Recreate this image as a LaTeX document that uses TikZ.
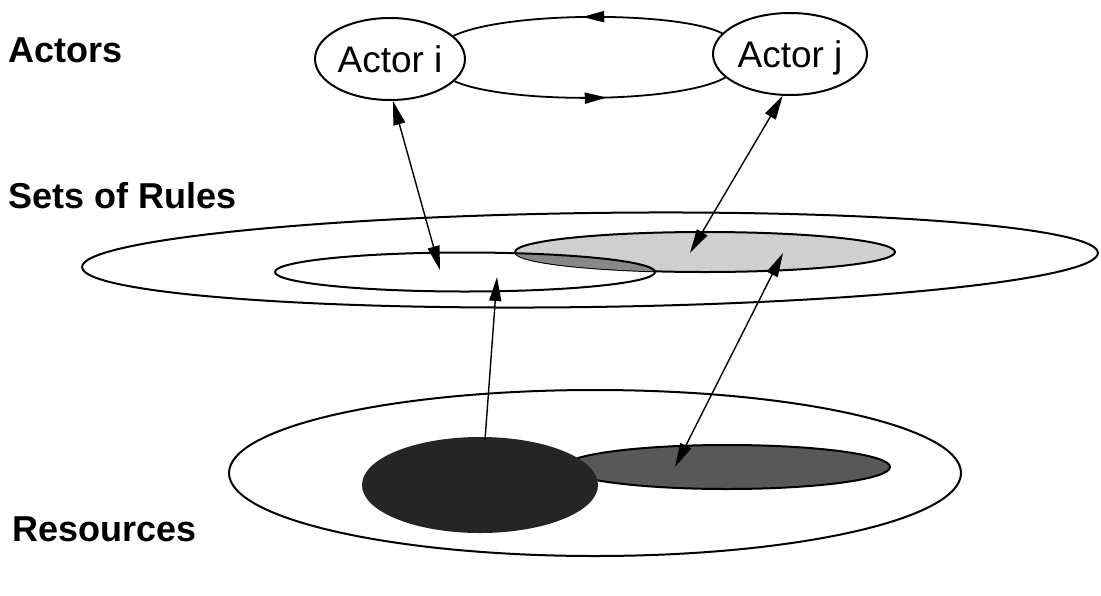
\documentclass[tikz,border=0pt]{standalone}
\usepackage{fontspec}
\setmainfont{Liberation Sans}
\usetikzlibrary{arrows.meta, decorations.markings, shapes.geometric}
\definecolor{ruleLight}{HTML}{CFCFCF}
\definecolor{ruleDark}{HTML}{878787}
\definecolor{resDark}{HTML}{585858}
\definecolor{resBlack}{HTML}{252525}
\tikzset{
  rim/.style        = {line width=2pt, black},
  actorbox/.style   = {ellipse, draw, line width=2pt, minimum width=150pt,
                       minimum height=82pt, inner sep=0pt, text depth=0pt,
                       font=\fontsize{37}{42}\selectfont},
  layerlbl/.style   = {anchor=base west, inner sep=0pt,
                       font=\fontsize{36}{42}\selectfont\bfseries},
  link/.style       = {{Triangle[length=24pt,width=12pt]}-{Triangle[length=24pt,width=12pt]},
                       line width=1.4pt},
  uplink/.style     = {-{Triangle[length=24pt,width=12pt]}, line width=1.4pt},
  midtip/.style     = {decoration={markings,
                        mark=at position #1 with {\arrow{Triangle[length=22pt,width=11pt]}}},
                       postaction={decorate}},
}
\begin{document}
\begin{tikzpicture}[x=1pt, y=1pt]
  \useasboundingbox (0,0) rectangle (1101,-595);

  \foreach \nm/\xx/\yy/\lab in {lblact/8/-62/Actors, lblrule/8/-208/Sets of Rules,
                                lblres/12/-541/Resources} {
    \node[layerlbl] (\nm) at (\xx,\yy) {\lab};
  }

  % sets of rules : outer ring, shared set, actor j's own set
  \draw[rim, rotate around={0.8:(590,-260)}] (590,-260) ellipse [x radius=508pt, y radius=47pt];
  \filldraw[rim, fill=ruleLight] (705,-252) ellipse [x radius=190pt, y radius=20pt];
  \begin{scope}
    \clip (465,-272) ellipse [x radius=190pt, y radius=19.5pt];
    \fill[ruleDark] (705,-252) ellipse [x radius=190pt, y radius=20pt];
  \end{scope}
  \draw[rim] (465,-272) ellipse [x radius=190pt, y radius=19.5pt];

  % resources
  \draw[rim] (595,-473) ellipse [x radius=366pt, y radius=83pt];
  \filldraw[rim, fill=resDark] (727,-467) ellipse [x radius=163pt, y radius=22pt];
  \fill[resBlack] (480,-485) ellipse [x radius=118pt, y radius=48pt];

  \node[actorbox] (ai) at (390,-59) {Actor i};
  \node[actorbox, minimum width=154pt] (aj) at (790,-54) {Actor j};

  \draw[line width=1.8pt, midtip=0.52] (aj.163) .. controls (678,-11) and (505,-11) .. (ai.20);
  \draw[line width=1.8pt, midtip=0.56] (ai.-19) .. controls (505,-104) and (678,-104) .. (aj.200);

  \coordinate (ruleI)  at (440,-270);
  \coordinate (ruleJ)  at (690,-253);
  \coordinate (ruleIn) at (497,-277);
  \coordinate (ruleUp) at (783,-253);
  \coordinate (resI)   at (485,-440);
  \coordinate (resJ)   at (675,-467);

  \draw[link]   (ai.-86)  -- (ruleI);
  \draw[link]   (aj.-100) -- (ruleJ);
  \draw[uplink] (resI)    -- (ruleIn);
  \draw[link]   (resJ)    -- (ruleUp);
\end{tikzpicture}
\end{document}
